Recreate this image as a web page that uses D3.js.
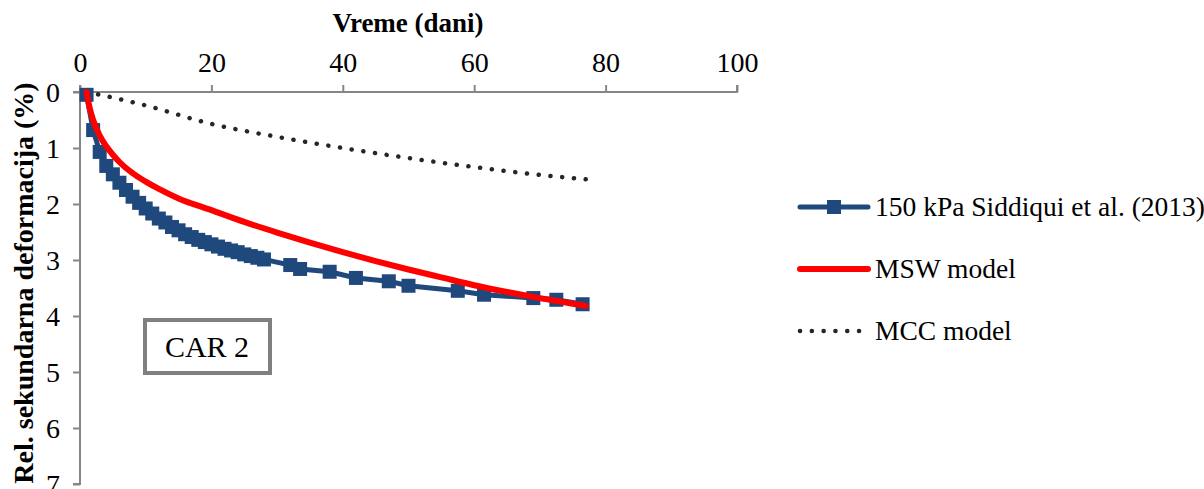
<!DOCTYPE html>
<html><head><meta charset="utf-8">
<script src="https://cdn.jsdelivr.net/npm/d3@7"></script>
<style>
body{margin:0;background:#fff}
svg{display:block}
svg text{font-family:"Liberation Serif","Times New Roman",Times,"DejaVu Serif",serif;}
</style>
</head><body>
<svg id="c" width="1204" height="489"></svg>
<script>
const xTicks = [0, 20, 40, 60, 80, 100];
const yTicks = [0, 1, 2, 3, 4, 5, 6, 7];
const seriesNames = ["150 kPa Siddiqui et al. (2013)", "MSW model", "MCC model"];
const expX = [1, 2, 3, 4, 5, 6, 7, 8, 9, 10, 11, 12, 13, 14, 15, 16, 17, 18, 19, 20, 21, 22, 23, 24, 25, 26, 27, 28, 32, 33.5, 38, 42, 47, 50, 57.5, 61.5, 69, 72.5, 76.5];
const expY = [0.05, 0.68, 1.07, 1.32, 1.47, 1.62, 1.75, 1.87, 1.98, 2.08, 2.17, 2.26, 2.33, 2.41, 2.47, 2.54, 2.59, 2.64, 2.68, 2.72, 2.76, 2.8, 2.83, 2.86, 2.9, 2.93, 2.96, 2.99, 3.09, 3.16, 3.21, 3.32, 3.38, 3.46, 3.55, 3.62, 3.68, 3.71, 3.79];
const mswX = [1, 1.5, 2, 3, 4, 5, 6, 8, 10, 12, 15, 20, 25, 30, 35, 40, 45, 50, 55, 60, 65, 70, 75, 77];
const mswY = [0, 0.3, 0.5, 0.78, 0.97, 1.12, 1.25, 1.45, 1.6, 1.73, 1.9, 2.11, 2.32, 2.51, 2.69, 2.86, 3.02, 3.17, 3.31, 3.45, 3.57, 3.68, 3.78, 3.82];
const mccX = [1, 5, 10, 20, 30, 40, 50, 60, 70, 77];
const mccY = [0, 0.1, 0.24, 0.57, 0.8, 1.0, 1.18, 1.34, 1.48, 1.56];
const annotation = "CAR 2";
const xTitle = "Vreme (dani)";
const yTitle = "Rel. sekundarna deformacija (%)";

const svg = d3.select("#c");
const L = 80, R = 737, T = 92, B = 484;
const x = d3.scaleLinear().domain([0, 100]).range([L, R]);
const y = d3.scaleLinear().domain([0, 7]).range([T, B]);
const font = '"Liberation Serif","Times New Roman",Times,"DejaVu Serif",serif';
const axisCol = "#868686";

// axes
const xa = svg.append("g").attr("transform", `translate(0,${T})`)
  .call(d3.axisTop(x).tickValues(xTicks).tickSize(7).tickPadding(13).tickFormat(d3.format("d")));
const ya = svg.append("g").attr("transform", `translate(${L},0)`)
  .call(d3.axisLeft(y).tickValues(yTicks).tickSize(7).tickPadding(13).tickFormat(d3.format("d")));
[xa, ya].forEach(g => {
  g.attr("font-family", null).attr("font-size", null);
  g.select(".domain").attr("stroke", axisCol).attr("stroke-width", 2);
  g.selectAll(".tick line").attr("stroke", axisCol).attr("stroke-width", 2);
  g.selectAll(".tick text").attr("fill", "#000").style("font-family", font).style("font-size", "28px");
});
ya.select(".domain").attr("d", `M-7,${T}H0V${B}H-7`);
xa.select(".domain").attr("d", `M${L},-7V0H${R}V-7`);
ya.selectAll(".tick text").attr("dy", "0.34em");

// titles
svg.append("text").attr("x", 408).attr("y", 32).attr("text-anchor", "middle")
  .style("font-family", font).style("font-size", "27px").style("font-weight", "bold").text(xTitle);
svg.append("text").attr("transform", `translate(33,283) rotate(-90)`).attr("text-anchor", "middle")
  .style("font-family", font).style("font-size", "28px").style("font-weight", "bold").text(yTitle);

const line = d3.line().x(d => x(d[0])).y(d => y(d[1]));
const mcc = mccX.map((v, i) => [v, mccY[i]]);
const msw = mswX.map((v, i) => [v, mswY[i]]);
const exp = expX.map((v, i) => [v, expY[i]]);
const lineC = d3.line().curve(d3.curveMonotoneX).x(d => x(d[0])).y(d => y(d[1]));

svg.append("path").datum(mcc).attr("d", lineC).attr("fill", "none").attr("stroke", "#262626")
  .attr("stroke-width", 4.5).attr("stroke-linecap", "round").attr("stroke-dasharray", "0.1 11.7");
const blue = "#1F497D";
svg.append("path").datum(exp).attr("d", line).attr("fill", "none").attr("stroke", blue).attr("stroke-width", 5);
svg.append("g").selectAll("rect").data(exp).join("rect")
  .attr("x", d => x(d[0]) - 7).attr("y", d => y(d[1]) - 7).attr("width", 14).attr("height", 14).attr("fill", blue);
svg.append("path").datum(msw).attr("d", lineC).attr("fill", "none").attr("stroke", "#FF0000")
  .attr("stroke-width", 6).attr("stroke-linecap", "round");

// annotation box
svg.append("rect").attr("x", 145).attr("y", 320).attr("width", 125).attr("height", 53)
  .attr("fill", "#fff").attr("stroke", "#808080").attr("stroke-width", 4);
svg.append("text").attr("x", 207).attr("y", 357).attr("text-anchor", "middle")
  .style("font-family", font).style("font-size", "30px").text(annotation);

// legend
const lg = svg.append("g");
const ly = [207, 269, 331];
lg.append("line").attr("x1", 800).attr("x2", 868).attr("y1", ly[0]).attr("y2", ly[0])
  .attr("stroke", blue).attr("stroke-width", 5).attr("stroke-linecap", "round");
lg.append("rect").attr("x", 834 - 7).attr("y", ly[0] - 7).attr("width", 14).attr("height", 14).attr("fill", blue);
lg.append("line").attr("x1", 800).attr("x2", 868).attr("y1", ly[1]).attr("y2", ly[1])
  .attr("stroke", "#FF0000").attr("stroke-width", 6).attr("stroke-linecap", "round");
lg.append("line").attr("x1", 800).attr("x2", 862).attr("y1", ly[2]).attr("y2", ly[2])
  .attr("stroke", "#262626").attr("stroke-width", 4.5).attr("stroke-linecap", "round").attr("stroke-dasharray", "0.1 11.7");
seriesNames.forEach((n, i) => {
  lg.append("text").attr("x", 875).attr("y", ly[i] + 9)
    .style("font-family", font).style("font-size", "27.5px").text(n);
});
</script>
</body></html>
